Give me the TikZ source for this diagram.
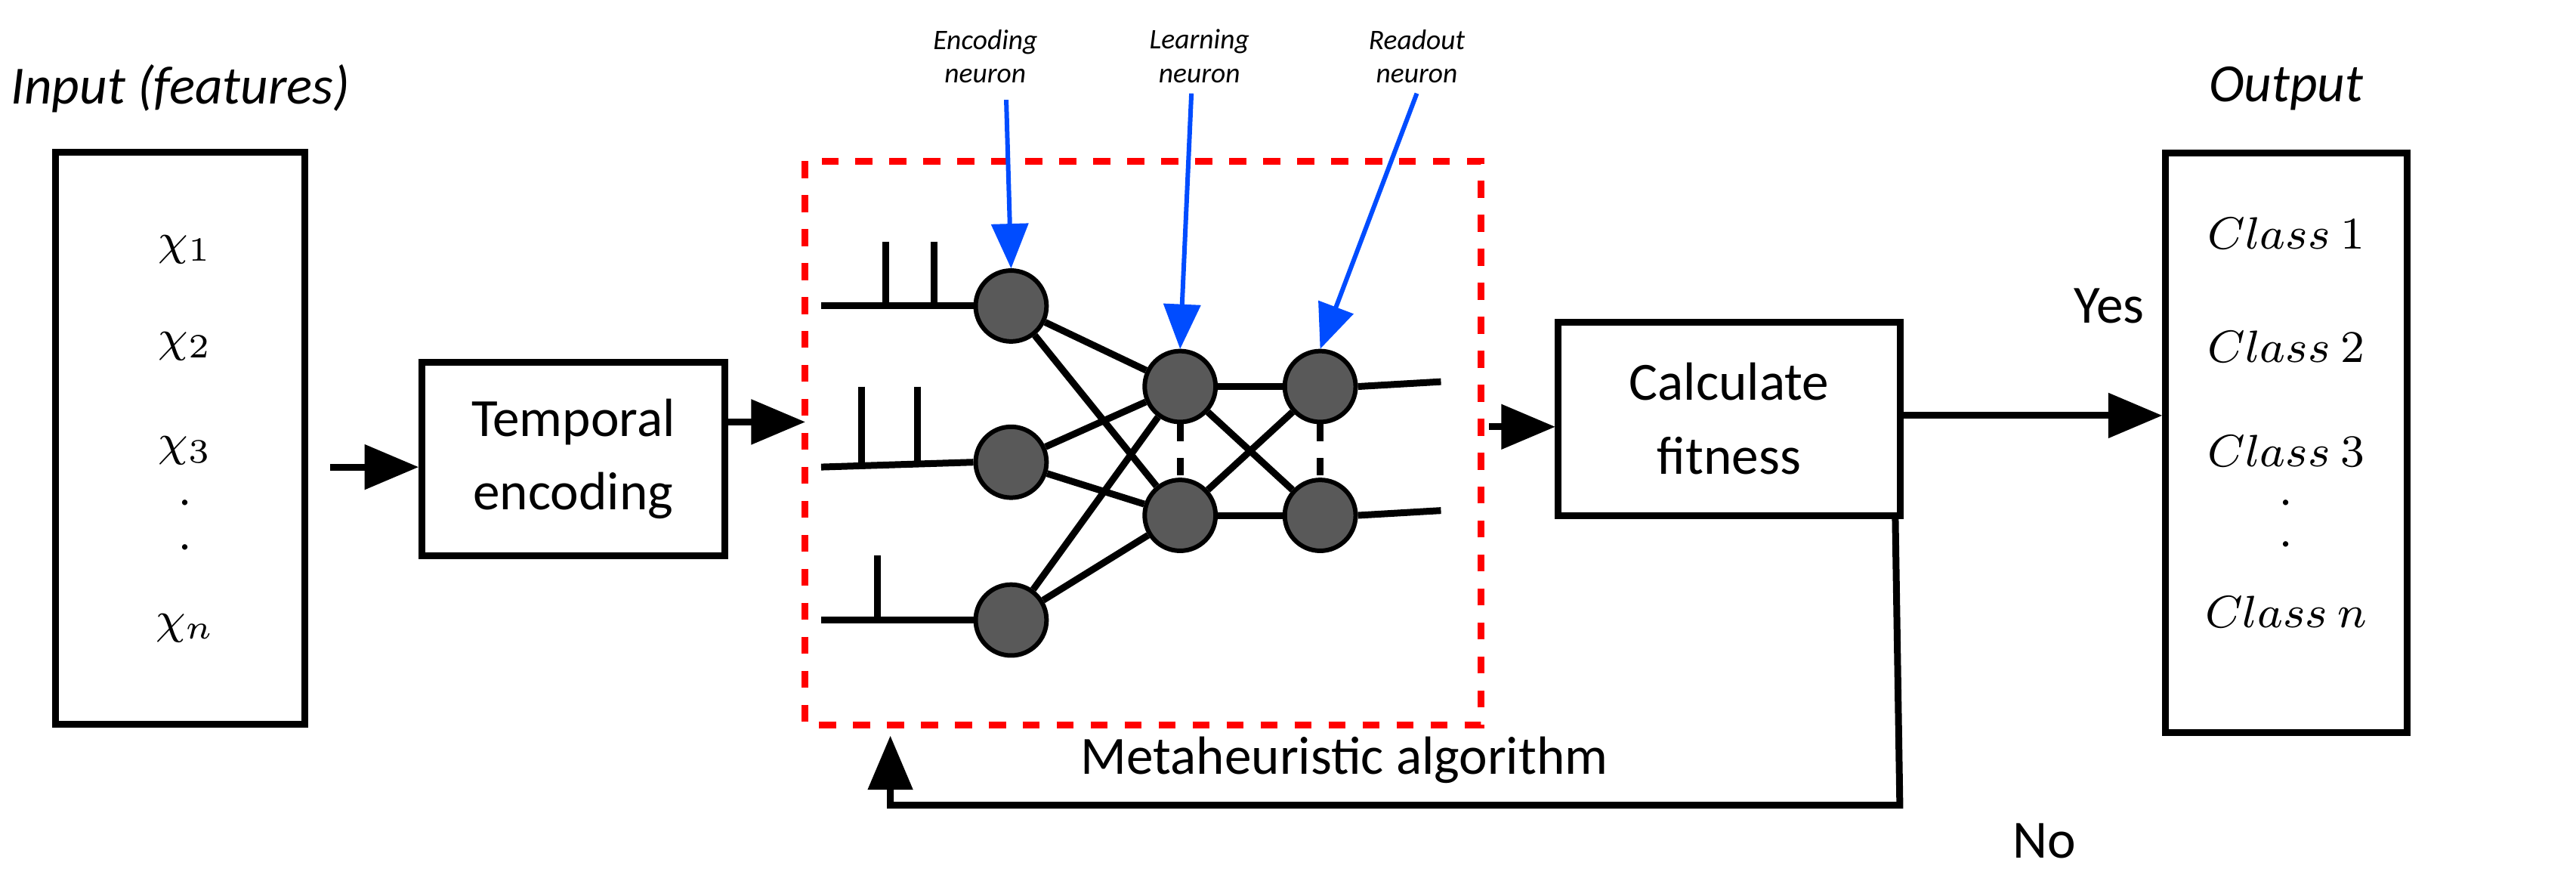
\documentclass[tikz,border=0pt]{standalone}
\usepackage{fontspec}
\setmainfont{Carlito}
\usepackage{tikz}
\usetikzlibrary{arrows,positioning,calc}
\tikzset{
	bx/.style={rectangle,very thick,draw=black},
	nrn/.style={circle,thick,draw=black,fill=gray!70!black,minimum size=0.44cm,inner sep=0pt},
	lab/.style={font=\fontsize{5}{6}\selectfont\itshape,align=center},
	pt/.style={blue!70!cyan,-triangle 45,thick},
	arr/.style={-triangle 45,very thick},
	txt/.style={font=\fontsize{9.5}{11}\selectfont},
	mth/.style={font=\fontsize{8}{9}\selectfont}
}
\begin{document}
\begin{tikzpicture}[x=0.01cm,y=-0.01cm]
    \useasboundingbox (0,0) rectangle (1600,541);
    \node[txt] at (112,55) {\itshape Input (features)};
    \node (inp) [bx,minimum width=1.55cm,minimum height=3.55cm] at (112,272) {};
    \node[mth] at (115,155) {$\chi_1$};
    \node[mth] at (115,215) {$\chi_2$};
    \node[mth] at (115,280) {$\chi_3$};
    \node[mth] at (115,312) {.};
    \node[mth] at (115,340) {.};
    \node[mth] at (115,390) {$\chi_n$};
    \node (te) [bx,minimum width=1.88cm,minimum height=1.2cm,align=center,txt] at (356,285) {Temporal\\[2pt]encoding};
    \draw[arr] (205,290) -- (te.west |- 0,290);
    \draw[red,very thick,dashed] (500,100) rectangle (920,450);
    \coordinate (sn) at (500,262);
    \draw[arr] (te.east |- sn) -- (sn);
    % neurons
    \node (e1) [nrn] at (628,190) {};
    \node (e2) [nrn] at (628,287) {};
    \node (e3) [nrn] at (628,385) {};
    \node (l1) [nrn] at (733,240) {};
    \node (l2) [nrn] at (733,320) {};
    \node (r1) [nrn] at (820,240) {};
    \node (r2) [nrn] at (820,320) {};
    \foreach \a in {e1,e2,e3} {
      \draw[very thick] (\a) -- (l1);
      \draw[very thick] (\a) -- (l2);
    }
    \foreach \a in {l1,l2} {
      \draw[very thick] (\a) -- (r1);
      \draw[very thick] (\a) -- (r2);
    }
    \draw[very thick,dashed] (l1) -- (l2);
    \draw[very thick,dashed] (r1) -- (r2);
    % spikes
    \draw[very thick] (510,190) -- (e1.west);
    \draw[very thick] (510,290) -- (e2.west);
    \draw[very thick] (510,385) -- (e3.west);
    \draw[very thick] (550,150) -- (550,190) (580,150) -- (580,190);
    \draw[very thick] (535,240) -- (535,290) (570,240) -- (570,290);
    \draw[very thick] (545,345) -- (545,385);
    \draw[very thick] (r1.east) -- (895,237);
    \draw[very thick] (r2.east) -- (895,317);
    % pointers
    \node (le) [lab] at (612,35) {Encoding\\neuron};
    \node (ll) [lab] at (745,35) {Learning\\neuron};
    \node (lr) [lab] at (880,35) {Readout\\neuron};
    \draw[pt] (625,62) -- (e1.north);
    \draw[pt] (740,58) -- (l1.north);
    \draw[pt] (880,58) -- (r1.north);
    % fitness
    \node (cf) [bx,minimum width=2.12cm,minimum height=1.2cm,align=center,txt] at (1074,260) {Calculate\\[2pt]fitness};
    \draw[arr] (925,265) -- (cf.west |- 0,265);
    \node (out) [bx,minimum width=1.5cm,minimum height=3.6cm] at (1420,275) {};
    \node[txt] at (1420,55) {\itshape Output};
    \node[mth] at (1420,145) {$Class\ 1$};
    \node[mth] at (1420,215) {$Class\ 2$};
    \node[mth] at (1420,280) {$Class\ 3$};
    \node[mth] at (1420,312) {.};
    \node[mth] at (1420,338) {.};
    \node[mth] at (1420,380) {$Class\ n$};
    \draw[arr] (cf.east |- 0,258) -- (out.west |- 0,258);
    \node[txt] at (1310,190) {Yes};
    % feedback
    \draw[arr] (cf.south east |- 0,320) ++(-5,0) -- (1180,500) -- (553,500) -- (553,457);
    \node[txt] at (835,472) {Metaheuristic algorithm};
    \node[txt] at (1270,522) {No};
\end{tikzpicture}
\end{document}
